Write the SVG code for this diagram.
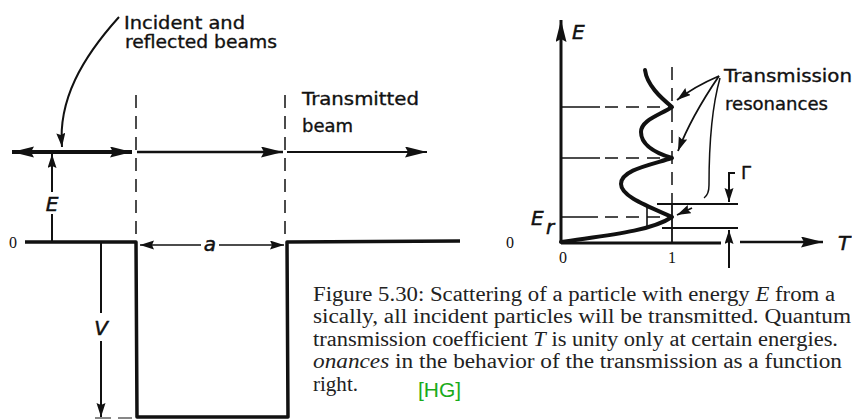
<svg xmlns="http://www.w3.org/2000/svg" width="852" height="420" viewBox="0 0 852 420">
<style>
.lbl{font-family:"DejaVu Sans","Liberation Sans",sans-serif;font-size:18px;fill:#111;stroke:#111;stroke-width:0.35}
.it{font-family:"DejaVu Sans","Liberation Sans",sans-serif;font-style:italic;font-size:20px;fill:#111;stroke:#111;stroke-width:0.5}
.num{font-family:"Liberation Serif","DejaVu Serif",serif;font-size:16px;fill:#111}
.cap{font-family:"Liberation Serif","DejaVu Serif",serif;font-size:20px;fill:#222}
.ln{stroke:#111;fill:none;stroke-linecap:butt}
.dash{stroke:#111;fill:none;stroke-width:1.5;stroke-dasharray:13 8}
.thick{stroke:#111;fill:none;stroke-width:4;stroke-linecap:round;stroke-linejoin:round}
</style>
<defs>
<marker id="ah" markerUnits="userSpaceOnUse" markerWidth="24" markerHeight="12" refX="22" refY="5.5" orient="auto-start-reverse"><path d="M0,0 L22,5.5 L0,11 L3,5.5 z" fill="#111"/></marker>
<marker id="ahs" markerUnits="userSpaceOnUse" markerWidth="16" markerHeight="10" refX="14" refY="4.5" orient="auto-start-reverse"><path d="M0,0 L14,4.5 L0,9 L2,4.5 z" fill="#111"/></marker>
</defs>

<g id="connectors">
<path class="ln" d="M12,152 L132,152" stroke-width="4" marker-start="url(#ah)" marker-end="url(#ah)"/>
<path class="ln" d="M137,152 L283,152" stroke-width="2.5" marker-end="url(#ah)"/>
<path class="ln" d="M287,152 L427,152" stroke-width="2" marker-end="url(#ah)"/>
<path class="dash" d="M136,95 L136,240"/>
<path class="dash" d="M285,95 L285,240"/>
<path class="ln" d="M119,17 C82,58 58,100 62,147" stroke-width="2" marker-end="url(#ahs)"/>
<path class="ln" d="M52,242 L52,214" stroke-width="2"/>
<path class="ln" d="M52,192 L52,154" stroke-width="2" marker-end="url(#ahs)"/>
<path class="ln" d="M101,242 L101,313" stroke-width="2"/>
<path class="ln" d="M101,341 L101,417" stroke-width="2" marker-end="url(#ahs)"/>
<path class="ln" d="M95,418 L111,418 M118,418 L132,418" stroke-width="1.2"/>
<path class="ln" d="M140,245 L201,245" stroke-width="1.6" marker-start="url(#ahs)"/>
<path class="ln" d="M219,245 L284,245" stroke-width="1.6" marker-end="url(#ahs)"/>
<path class="ln" d="M25,242 L136,242 L137,417 L288,417 L287,242 L460,241" stroke-width="3.5" stroke-linejoin="round"/>

<path class="ln" d="M561,243 L561,20" stroke-width="3" marker-end="url(#ah)"/>
<path class="ln" d="M561,243 L721,243" stroke-width="3"/>
<path class="ln" d="M740,242 L823,242" stroke-width="2.5" marker-end="url(#ah)"/>
<path class="dash" d="M672,67 L672,205" stroke-dasharray="10 7"/>
<path class="ln" d="M672,205 L672,243" stroke-width="1.8"/>
<path class="ln" d="M561,107 L600,107" stroke-width="1.6"/>
<path class="dash" d="M605,107 L670,107" stroke-dasharray="14 9"/>
<path class="ln" d="M561,158 L600,158" stroke-width="1.6"/>
<path class="dash" d="M605,158 L670,158" stroke-dasharray="14 9"/>
<path class="ln" d="M561,217 L598,217" stroke-width="1.6"/>
<path class="dash" d="M605,217 L670,217" stroke-dasharray="10 9"/>
<path class="ln" d="M657,204 L738,204" stroke-width="1.8"/>
<path class="ln" d="M662,228 L738,228" stroke-width="1.8"/>
<path class="ln" d="M647,205 L647,228" stroke-width="1.6"/>
<path class="ln" d="M735,173 L729,173 L729,202" stroke-width="2" marker-end="url(#ahs)"/>
<path class="ln" d="M729,268 L729,230" stroke-width="2" marker-end="url(#ahs)"/>
<path class="ln" d="M719,76 C705,82 690,90 677,100" stroke-width="1.8" marker-end="url(#ahs)"/>
<path class="ln" d="M719,76 C704,98 688,125 678,151" stroke-width="1.8" marker-end="url(#ahs)"/>
<path class="ln" d="M720,78 C711,110 709,150 709,185 C709,192 707,196 704,198" stroke-width="1.5"/>
<path class="ln" d="M692,208 L677,215" stroke-width="1.8" marker-end="url(#ahs)"/>
</g>

<g id="curve">
<path class="thick" d="M561,242 C600,236 650,232 672,217 C645,205 621,196 621,184 C621,170 650,165 672,158 C652,152 641,144 641,132 C641,120 660,115 672,107 C660,97 647,85 645,70"/>
</g>

<g id="labels-left">
<text class="lbl" x="124" y="29" textLength="121" lengthAdjust="spacingAndGlyphs">Incident and</text>
<text class="lbl" x="125" y="48" textLength="152" lengthAdjust="spacingAndGlyphs">reflected beams</text>
<text class="lbl" x="302" y="105" textLength="117" lengthAdjust="spacingAndGlyphs">Transmitted</text>
<text class="lbl" x="302" y="132" font-size="19">beam</text>
<text class="it" x="52" y="211" text-anchor="middle">E</text>
<text class="it" x="210" y="251" text-anchor="middle">a</text>
<text class="it" x="101" y="335" text-anchor="middle">V</text>
<text class="num" x="13" y="248" text-anchor="middle">0</text>
</g>

<g id="labels-right">
<text class="it" x="572" y="39">E</text>
<text class="it" x="531" y="225">E</text>
<text class="it" x="546" y="234" font-size="13">r</text>
<text class="it" x="838" y="250" font-size="22">T</text>
<text class="lbl" x="724" y="82" textLength="128" lengthAdjust="spacingAndGlyphs" font-size="17">Transmission</text>
<text class="lbl" x="725" y="110" textLength="103" lengthAdjust="spacingAndGlyphs" font-size="18">resonances</text>
<text class="lbl" x="741" y="179" font-size="19">Γ</text>
<text class="num" x="510" y="248" text-anchor="middle">0</text>
<text class="num" x="563" y="263" text-anchor="middle">0</text>
<text class="num" x="672" y="263" text-anchor="middle">1</text>
</g>

<g id="caption">
<text class="cap" x="313" y="301" textLength="522" lengthAdjust="spacingAndGlyphs">Figure 5.30: Scattering of a particle with energy <tspan font-style="italic">E</tspan> from a</text>
<text class="cap" x="313" y="323" textLength="538" lengthAdjust="spacingAndGlyphs">sically, all incident particles will be transmitted.  Quantum</text>
<text class="cap" x="313" y="346" textLength="525" lengthAdjust="spacingAndGlyphs">transmission coefficient <tspan font-style="italic">T</tspan> is unity only at certain energies.</text>
<text class="cap" x="313" y="368" textLength="529" lengthAdjust="spacingAndGlyphs"><tspan font-style="italic">onances</tspan> in the behavior of the transmission as a function</text>
<text class="cap" x="313" y="391" textLength="45" lengthAdjust="spacingAndGlyphs">right.</text>
<text x="418" y="397" font-family="Liberation Sans, Arial, sans-serif" font-size="21" fill="#1aab1a">[HG]</text>
</g>
</svg>
